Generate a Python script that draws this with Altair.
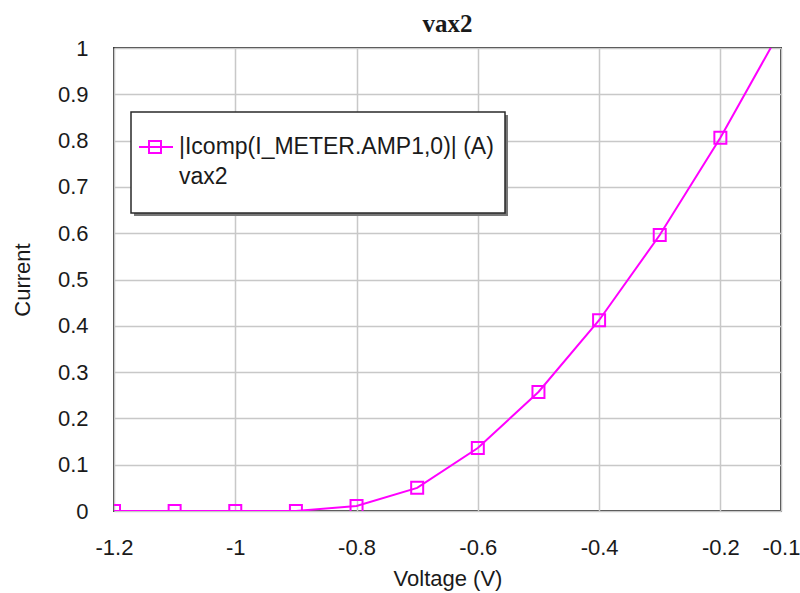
import altair as alt
import pandas as pd

# Sweep samples: gate voltage (V) and current magnitude (A)
voltage = [-1.2, -1.1, -1.0, -0.9, -0.8, -0.7, -0.6, -0.5, -0.4, -0.3, -0.2]
current = [0.0, 0.0, 0.0, 0.0, 0.011, 0.05, 0.136, 0.257, 0.412, 0.596, 0.806]
# the trace keeps going past the last marker and leaves the top of the plot
tail_voltage = [-0.1]
tail_current = [1.04]

x_ticks = [-1.2, -1.0, -0.8, -0.6, -0.4, -0.2, -0.1]
y_ticks = [0.0, 0.1, 0.2, 0.3, 0.4, 0.5, 0.6, 0.7, 0.8, 0.9, 1.0]

chart_title = "vax2"
legend_series = "|Icomp(I_METER.AMP1,0)| (A)"
legend_run = "vax2"

MAGENTA = "#ff00ff"
TEXT = "#1a1a1a"
SANS = "Liberation Sans"
PLOT_W, PLOT_H = 667, 463

markers = pd.DataFrame({"voltage": voltage, "current": current})
trace = pd.DataFrame({"voltage": voltage + tail_voltage,
                      "current": current + tail_current})

x_enc = alt.X(
    "voltage:Q",
    scale=alt.Scale(domain=[-1.2, -0.1], nice=False, zero=False),
    axis=alt.Axis(
        values=x_ticks,
        labelExpr="'' + datum.value",
        labelOverlap=False,
        labelFlush=False,
        labelBound=False,
        title="Voltage (V)",
        labelPadding=36,
        labelBaseline="middle",
        titleY=67,
        titleBaseline="middle",
    ),
)
y_enc = alt.Y(
    "current:Q",
    scale=alt.Scale(domain=[0, 1], nice=False),
    axis=alt.Axis(
        values=y_ticks,
        labelExpr="'' + datum.value",
        labelOverlap=False,
        labelFlush=False,
        title="Current",
        labelPadding=26,
        titleX=-92,
        titleBaseline="middle",
    ),
)

line = alt.Chart(trace).mark_line(color=MAGENTA, strokeWidth=2, clip=True).encode(
    x=x_enc, y=y_enc
)
points = alt.Chart(markers).mark_point(
    shape="square", size=144, strokeWidth=2, color=MAGENTA,
    filled=False, opacity=1, clip=True
).encode(x="voltage:Q", y="current:Q")

one = alt.Chart(pd.DataFrame({"k": [0]}))

# Chart heading above the plot frame
heading = one.mark_text(
    align="center", baseline="alphabetic", font="Liberation Serif",
    fontSize=25, fontWeight="bold", color=TEXT
).encode(x=alt.value(PLOT_W / 2), y=alt.value(-16), text=alt.value(chart_title))

# Boxed legend in the upper-left of the plot
shadow = one.mark_rect(color="#777777").encode(
    x=alt.value(20), x2=alt.value(394), y=alt.value(67), y2=alt.value(168)
)
box = one.mark_rect(fill="white", stroke="#2a2a2a", strokeWidth=1.5).encode(
    x=alt.value(17), x2=alt.value(391), y=alt.value(64), y2=alt.value(165)
)
sym_line = one.mark_rule(color=MAGENTA, strokeWidth=2).encode(
    x=alt.value(25), x2=alt.value(59), y=alt.value(99)
)
sym_pt = one.mark_point(
    shape="square", size=144, strokeWidth=2, color=MAGENTA, filled=False, opacity=1
).encode(x=alt.value(41), y=alt.value(99))
txt1 = one.mark_text(
    align="left", baseline="middle", font=SANS, fontSize=23, color=TEXT
).encode(x=alt.value(65), y=alt.value(99), text=alt.value(legend_series))
txt2 = one.mark_text(
    align="left", baseline="middle", font=SANS, fontSize=23, color=TEXT
).encode(x=alt.value(65), y=alt.value(129), text=alt.value(legend_run))

chart = (
    alt.layer(line, points, heading, shadow, box, sym_line, sym_pt, txt1, txt2)
    .properties(
        width=PLOT_W,
        height=PLOT_H,
        autosize=alt.AutoSizeParams(type="none"),
        padding={"left": 114, "top": 48, "right": 19, "bottom": 82},
        background="white",
    )
    .configure_view(stroke="#3a3a3a", strokeWidth=2)
    .configure_axis(
        domain=False,
        ticks=False,
        tickSize=0,
        grid=True,
        gridColor="#c8c8c8",
        gridWidth=1.5,
        labelFont=SANS,
        labelFontSize=22,
        labelColor=TEXT,
        titleFont=SANS,
        titleFontSize=22,
        titleFontWeight="normal",
        titleColor=TEXT,
    )
)

chart.save("out.html", embed_options={"renderer": "svg", "actions": False})
